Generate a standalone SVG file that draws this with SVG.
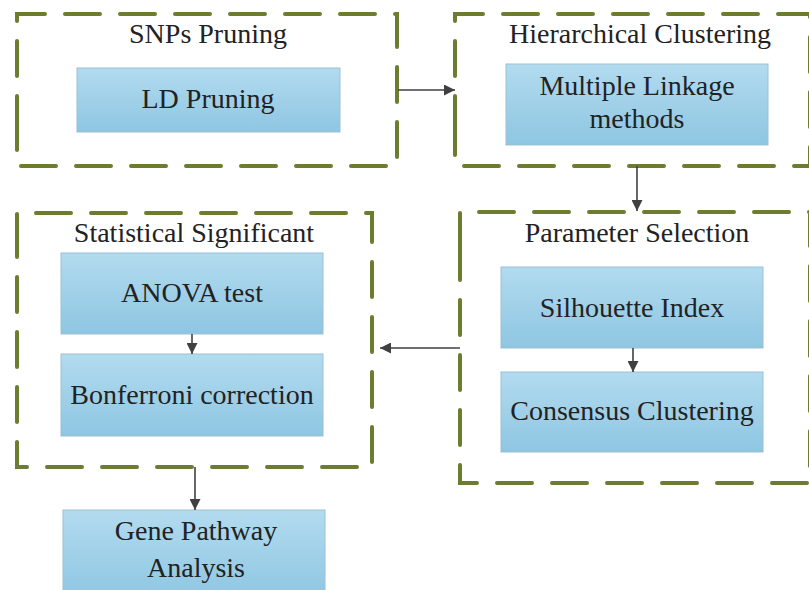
<svg xmlns="http://www.w3.org/2000/svg" width="809" height="590" viewBox="0 0 809 590">
<defs>
<linearGradient id="bg" x1="0" y1="0" x2="0" y2="1">
<stop offset="0" stop-color="#b2dbef"/>
<stop offset="1" stop-color="#8ec6e2"/>
</linearGradient>
<marker id="ah" viewBox="0 0 10 10" refX="10" refY="5" markerWidth="11" markerHeight="11" markerUnits="userSpaceOnUse" orient="auto">
<path d="M0,0 L10,5 L0,10 Z" fill="#404040"/>
</marker>
</defs>
<style>
.grp{fill:none;stroke:#6d7d30;stroke-width:4;stroke-dasharray:35 20;stroke-linecap:round}
.box{fill:url(#bg);stroke:#9cc0d4;stroke-width:1}
.t{font-family:'Liberation Serif','Times New Roman',serif;font-size:28px;fill:#222;text-anchor:middle}
.c{fill:none;stroke:#404040;stroke-width:1.6;marker-end:url(#ah)}
</style>
<rect width="809" height="590" fill="#fff"/>
<g id="snps-pruning">
<path class="grp" d="M17,131 L17,14 L397,14 L397,166 L17,166 Z"/>
<text class="t" font-family="Liberation Serif" x="208" y="43">SNPs Pruning</text>
</g>
<g id="ld-pruning">
<rect class="box" x="77" y="68" width="263" height="64"/>
<text class="t" font-family="Liberation Serif" x="208" y="108">LD Pruning</text>
</g>
<g id="hierarchical-clustering">
<path class="grp" d="M455,131 L455,14 L810,14 L810,166 L455,166 Z"/>
<text class="t" font-family="Liberation Serif" x="640" y="43">Hierarchical Clustering</text>
</g>
<g id="multiple-linkage">
<rect class="box" x="506" y="64" width="262" height="81"/>
<text class="t" font-family="Liberation Serif" x="637" y="95">Multiple Linkage</text>
<text class="t" font-family="Liberation Serif" x="637" y="128">methods</text>
</g>
<g id="parameter-selection">
<path class="grp" d="M460,248 L460,212 L810,212 L810,483 L460,483 Z"/>
<text class="t" font-family="Liberation Serif" x="637" y="242">Parameter Selection</text>
</g>
<g id="silhouette-index">
<rect class="box" x="501" y="267" width="262" height="81"/>
<text class="t" font-family="Liberation Serif" x="632" y="317">Silhouette Index</text>
</g>
<g id="consensus-clustering">
<rect class="box" x="501" y="372" width="262" height="80"/>
<text class="t" font-family="Liberation Serif" x="632" y="420">Consensus Clustering</text>
</g>
<g id="statistical-significant">
<path class="grp" d="M17,249 L17,213 L372,213 L372,467 L17,467 Z"/>
<text class="t" font-family="Liberation Serif" x="194" y="242">Statistical Significant</text>
</g>
<g id="anova-test">
<rect class="box" x="61" y="253" width="262" height="81"/>
<text class="t" font-family="Liberation Serif" x="192" y="302">ANOVA test</text>
</g>
<g id="bonferroni-correction">
<rect class="box" x="61" y="354" width="262" height="82"/>
<text class="t" font-family="Liberation Serif" x="192" y="404">Bonferroni correction</text>
</g>
<g id="gene-pathway-analysis">
<rect class="box" x="63" y="510" width="262" height="90"/>
<text class="t" font-family="Liberation Serif" x="196" y="540">Gene Pathway</text>
<text class="t" font-family="Liberation Serif" x="196" y="577">Analysis</text>
</g>
<g id="connectors">
<path class="c" d="M398,90 L455,90"/>
<path class="c" d="M637,166 L637,211"/>
<path class="c" d="M460,348 L380,348"/>
<path class="c" d="M192,334 L192,354"/>
<path class="c" d="M633,348 L633,372"/>
<path class="c" d="M195,467 L195,510"/>
</g>
</svg>
